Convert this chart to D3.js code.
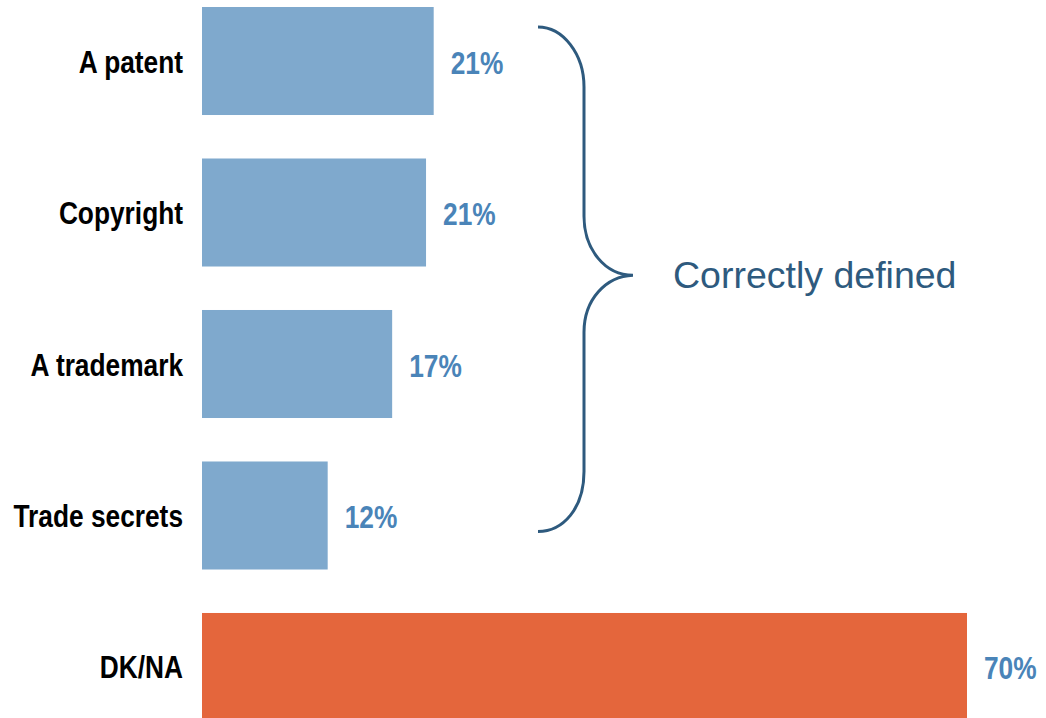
<!DOCTYPE html>
<html>
<head>
<meta charset="utf-8">
<script src="https://cdn.jsdelivr.net/npm/d3@7"></script>
<style>
  html, body { margin: 0; padding: 0; background: #ffffff; }
  svg { display: block; }
</style>
</head>
<body>
<svg id="chart" width="1046" height="718"></svg>
<script>
// Survey responses: share defining each term
const categories = ["A patent", "Copyright", "A trademark", "Trade secrets", "DK/NA"];
const values = [21.2, 20.5, 17.4, 11.5, 70];
const groupLabel = "Correctly defined";

const blue = "#7fa9cd";
const orange = "#e4663c";
const valueColor = "#4a84b8";
const braceColor = "#2e5a7e";

const svg = d3.select("#chart");
const data = categories.map((c, i) => ({ category: c, value: values[i] }));

const x = d3.scaleLinear().domain([0, 70]).range([202, 967]);
const y = d3.scaleBand().domain(categories).range([7, 721]).paddingInner(0.287).paddingOuter(0);

// Bold condensed face for the labels (bold sans squeezed horizontally)
const labelFont = "'Liberation Sans', Arial, sans-serif";
const squeeze = 0.835;

// Bars
svg.append("g").selectAll("rect")
  .data(data)
  .join("rect")
  .attr("x", x(0))
  .attr("y", d => y(d.category))
  .attr("width", d => x(d.value) - x(0))
  .attr("height", y.bandwidth())
  .attr("fill", d => d.category === "DK/NA" ? orange : blue);

// Category labels
svg.append("g").selectAll("text")
  .data(data)
  .join("text")
  .attr("transform", d => `translate(183,${y(d.category) + y.bandwidth() / 2 + 11.5}) scale(${squeeze},1)`)
  .attr("text-anchor", "end")
  .attr("font-family", labelFont)
  .attr("font-weight", "bold")
  .attr("font-size", 31.5)
  .attr("fill", "#000000")
  .text(d => d.category);

// Value labels
svg.append("g").selectAll("text")
  .data(data)
  .join("text")
  .attr("transform", d => `translate(${x(d.value) + 17},${y(d.category) + y.bandwidth() / 2 + 12.5}) scale(${squeeze},1)`)
  .attr("font-family", labelFont)
  .attr("font-weight", "bold")
  .attr("font-size", 31.5)
  .attr("fill", valueColor)
  .text(d => Math.round(d.value) + "%");

// Curly brace grouping the four defined terms
const braceTop = y("A patent") + 20;
const braceBottom = y("Trade secrets") + y.bandwidth() - 38;
const braceMid = (braceTop + braceBottom) / 2 - 4;
const bx0 = 538, bx1 = 584, tipX = 633;
const p = d3.path();
p.moveTo(bx0, braceTop);
p.bezierCurveTo(563, braceTop, bx1, braceTop + 27, bx1, braceTop + 60);
p.lineTo(bx1, braceMid - 59);
p.bezierCurveTo(bx1, braceMid - 26, 605, braceMid, tipX, braceMid);
p.bezierCurveTo(606, braceMid + 1, bx1, braceMid + 24, bx1, braceMid + 57);
p.lineTo(bx1, braceBottom - 60);
p.bezierCurveTo(bx1, braceBottom - 23, 563, braceBottom, bx0, braceBottom);
svg.append("path")
  .attr("d", p.toString())
  .attr("fill", "none")
  .attr("stroke", braceColor)
  .attr("stroke-width", 3);

svg.append("text")
  .attr("x", 673)
  .attr("y", 288)
  .attr("font-family", "'Liberation Sans', Arial, sans-serif")
  .attr("font-size", 37.5)
  .attr("fill", braceColor)
  .text(groupLabel);
</script>
</body>
</html>
